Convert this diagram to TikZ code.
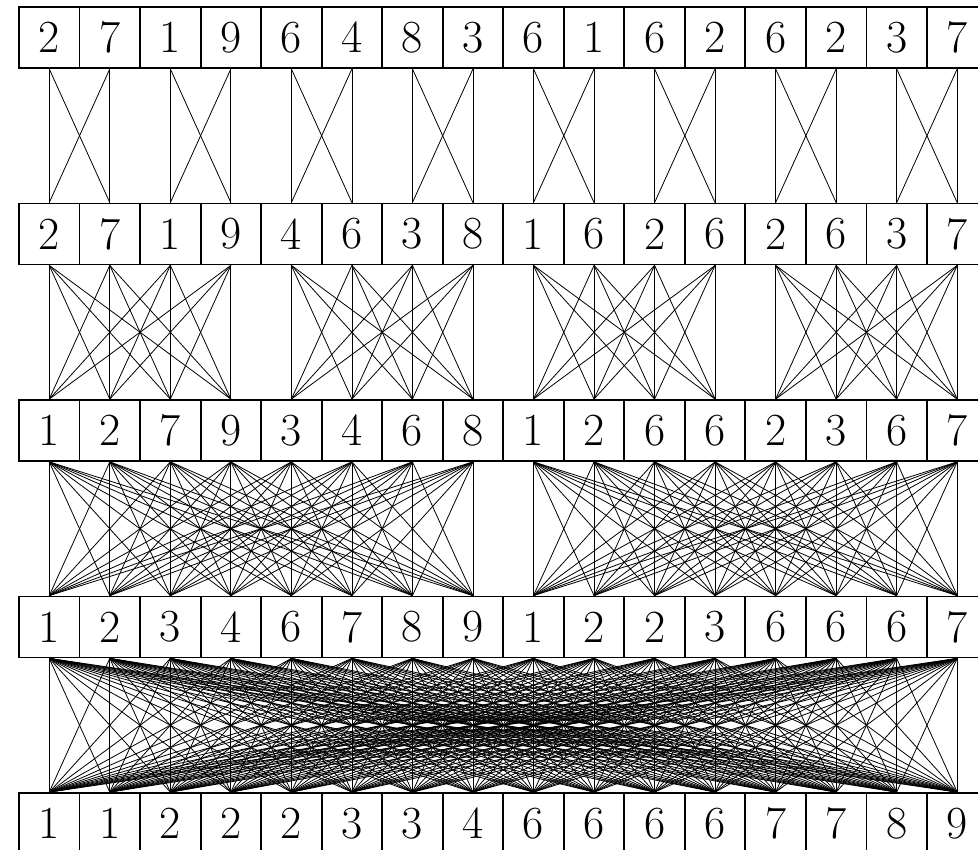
\documentclass[tikz,border=0pt]{standalone}
\usepackage{tikz}
\usetikzlibrary{positioning}

\begin{document}
\begin{tikzpicture}[x=1pt,y=-1pt,
  cell/.style={draw,line width=1.8pt,minimum width=60.5pt,minimum height=61pt,
               inner sep=0pt,font=\fontsize{46}{46}\selectfont},
  link/.style={line width=0.8pt}]
  \useasboundingbox (0,0) rectangle (978,850);
  % the five rows of sixteen cells
  \foreach \r/\vals in {1/{2,7,1,9,6,4,8,3,6,1,6,2,6,2,3,7},
                        2/{2,7,1,9,4,6,3,8,1,6,2,6,2,6,3,7},
                        3/{1,2,7,9,3,4,6,8,1,2,6,6,2,3,6,7},
                        4/{1,2,3,4,6,7,8,9,1,2,2,3,6,6,6,7},
                        5/{1,1,2,2,2,3,3,4,6,6,6,6,7,7,8,9}}{
    \foreach \v [count=\c] in \vals
      \node[cell] (n-\r-\c) at ({19+60.53*(\c-0.5)},{37.5+196.5*(\r-1)}) {\v};
  }
  % merge links: every cell of a block to every cell of the merged block
  \foreach \lev/\g in {1/2,2/4,3/8,4/16}{
    \pgfmathtruncatemacro{\nxt}{\lev+1}
    \foreach \i in {1,...,16}{
      \pgfmathtruncatemacro{\first}{int((\i-1)/\g)*\g+1}
      \pgfmathtruncatemacro{\last}{\first+\g-1}
      \foreach \j in {\first,...,\last}
        \draw[link] (n-\lev-\i.south) -- (n-\nxt-\j.north);
    }
  }
\end{tikzpicture}
\end{document}
